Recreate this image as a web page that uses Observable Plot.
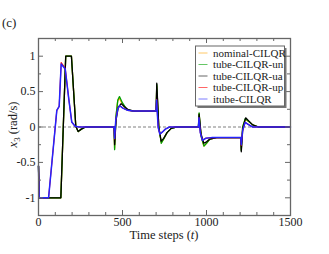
<!DOCTYPE html>
<html>
<head>
<meta charset="utf-8">
<script src="https://cdn.jsdelivr.net/npm/d3@7"></script>
<script src="https://cdn.jsdelivr.net/npm/@observablehq/plot@0.6"></script>
<style>
  html, body { margin: 0; padding: 0; background: #fff; }
  #chart { width: 329px; height: 254px; }
</style>
</head>
<body>
<div id="chart"></div>
<script>
// ---- data ----
const seriesNames = ["nominal-CILQR", "tube-CILQR-un", "tube-CILQR-ua", "tube-CILQR-up", "itube-CILQR"];
const seriesColors = ["#ffa500", "#00a000", "#000000", "#ff0000", "#2424ff"];
const seriesWidths = [1.3, 1.3, 1.3, 1.1, 1.5];

const tNominal = [0, 4, 133, 162, 196, 222, 236, 255, 280, 450, 453, 461, 471, 480, 498, 522, 560, 700, 704, 716, 731, 745, 765, 790, 820, 952, 956, 967, 984, 1000, 1020, 1060, 1204, 1207, 1215, 1231, 1250, 1275, 1310, 1500];
const vNominal = [-0.55, -1, -1, 1, 1, 0.01, -0.065, -0.03, 0, 0, -0.3, 0.14, 0.36, 0.41, 0.33, 0.25, 0.225, 0.225, 0.58, 0.0, -0.22, -0.17, -0.08, -0.02, 0, 0, 0.19, -0.12, -0.27, -0.23, -0.17, -0.15, -0.15, -0.32, 0.0, 0.11, 0.08, 0.03, 0, 0];

const tUn = [0, 4, 133, 162, 196, 222, 236, 255, 280, 450, 453, 461, 472, 482, 500, 525, 560, 700, 704, 716, 731, 745, 765, 790, 820, 952, 956, 967, 985, 1000, 1020, 1060, 1204, 1207, 1215, 1231, 1250, 1275, 1310, 1500];
const vUn = [-0.55, -1, -1, 1, 1, 0.01, -0.065, -0.03, 0, 0, -0.32, 0.15, 0.38, 0.43, 0.34, 0.25, 0.225, 0.225, 0.6, 0.0, -0.23, -0.17, -0.08, -0.02, 0, 0, 0.2, -0.12, -0.27, -0.23, -0.17, -0.15, -0.15, -0.33, 0.0, 0.12, 0.08, 0.03, 0, 0];

const tUa = [0, 4, 133, 162, 196, 222, 236, 255, 280, 450, 453, 462, 475, 492, 510, 535, 570, 700, 704, 716, 730, 745, 765, 790, 820, 952, 956, 968, 984, 1000, 1020, 1060, 1204, 1207, 1216, 1233, 1250, 1275, 1310, 1500];
const vUa = [-0.55, -1, -1, 1, 1, 0.01, -0.065, -0.03, 0, 0, -0.25, 0.1, 0.28, 0.33, 0.29, 0.245, 0.225, 0.225, 0.62, 0.0, -0.2, -0.16, -0.08, -0.02, 0, 0, 0.18, -0.1, -0.23, -0.21, -0.17, -0.15, -0.15, -0.35, -0.02, 0.13, 0.09, 0.03, 0, 0];

const tUp = [0, 4, 60, 109, 123, 135, 159, 180, 198, 218, 240, 450, 453, 460, 472, 484, 500, 530, 560, 700, 703, 712, 722, 738, 755, 780, 952, 955, 963, 976, 995, 1030, 1204, 1207, 1215, 1230, 1250, 1275, 1500];
const vUp = [-0.55, -1, -1, 0.235, 0.29, 0.91, 0.83, 0.4, 0.07, 0.01, 0, 0, -0.17, 0.1, 0.26, 0.3, 0.27, 0.235, 0.225, 0.225, 0.39, 0.0, -0.1, -0.07, -0.03, 0, 0, 0.13, -0.08, -0.19, -0.16, -0.15, -0.15, -0.26, -0.05, 0.065, 0.035, 0, 0];

const tItube = [0, 4, 60, 109, 123, 135, 159, 180, 198, 218, 240, 450, 453, 460, 472, 484, 500, 530, 560, 700, 703, 712, 722, 738, 755, 780, 952, 955, 963, 976, 995, 1030, 1204, 1207, 1215, 1230, 1250, 1275, 1500];
const vItube = [-0.55, -1, -1, 0.235, 0.29, 0.89, 0.82, 0.4, 0.07, 0.01, 0, 0, -0.16, 0.1, 0.26, 0.3, 0.27, 0.235, 0.225, 0.225, 0.38, 0.0, -0.1, -0.07, -0.03, 0, 0, 0.13, -0.08, -0.19, -0.16, -0.15, -0.15, -0.25, -0.05, 0.065, 0.035, 0, 0];

const xTickLabels = [0, 500, 1000, 1500];
const xMinorTicks = [0, 100, 200, 300, 400, 600, 700, 800, 900, 1100, 1200, 1300, 1400];
const yTickLabels = [-1, -0.5, 0, 0.5, 1];
const yMinorTicks = [-1.25, -0.75, -0.25, 0.25, 0.75, 1.25];

const xLabelMain = "Time steps (";
const xLabelVar = "t";
const panelLabel = "(c)";

// ---- build tables ----
const times = [tNominal, tUn, tUa, tUp, tItube];
const values = [vNominal, vUn, vUa, vUp, vItube];
const tables = times.map((ts, i) => ts.map((t, j) => ({t, v: values[i][j], s: seriesNames[i]})));

const W = 329, H = 254;
const mL = 38, mR = 39, mT = 38, mB = 39;
const fw = W - mL - mR, fh = H - mT - mB;
const serif = "'Liberation Serif', 'DejaVu Serif', serif";

const plot = Plot.plot({
  width: W, height: H,
  marginLeft: mL, marginRight: mR, marginTop: mT, marginBottom: mB,
  style: {fontFamily: serif, fontSize: "12px", background: "white", color: "#222"},
  x: {domain: [0, 1500]},
  y: {domain: [-1.25, 1.25]},
  marks: [
    Plot.ruleY([0], {stroke: "#aaaaaa", strokeWidth: 1.3, strokeDasharray: "3,2"}),
    ...tables.map((tb, i) => Plot.line(tb, {x: "t", y: "v", stroke: seriesColors[i], strokeWidth: seriesWidths[i]})),
    Plot.frame({stroke: "#666", strokeWidth: 1.3}),
    // inward ticks (bottom/top)
    Plot.tickX(xTickLabels, {x: d => d, stroke: "#666", strokeWidth: 1, insetTop: fh - 5}),
    Plot.tickX(xTickLabels, {x: d => d, stroke: "#666", strokeWidth: 1, insetBottom: fh - 5}),
    Plot.tickX(xMinorTicks, {x: d => d, stroke: "#666", strokeWidth: 1, insetTop: fh - 3}),
    Plot.tickX(xMinorTicks, {x: d => d, stroke: "#666", strokeWidth: 1, insetBottom: fh - 3}),
    // inward ticks (left/right)
    Plot.tickY(yTickLabels, {y: d => d, stroke: "#666", strokeWidth: 1, insetRight: fw - 5}),
    Plot.tickY(yTickLabels, {y: d => d, stroke: "#666", strokeWidth: 1, insetLeft: fw - 5}),
    Plot.tickY(yMinorTicks, {y: d => d, stroke: "#666", strokeWidth: 1, insetRight: fw - 3}),
    Plot.tickY(yMinorTicks, {y: d => d, stroke: "#666", strokeWidth: 1, insetLeft: fw - 3}),
    Plot.axisX({ticks: xTickLabels, tickSize: 0, tickPadding: 2, tickFormat: d => String(d), label: null, fill: "#222"}),
    Plot.axisY({ticks: yTickLabels, tickSize: 0, tickPadding: 3, tickFormat: d => String(d), label: null, fill: "#222"})
  ]
});

document.getElementById("chart").appendChild(plot);

// ---- annotations: axis labels, panel label, legend ----
const svg = d3.select(plot);

const xl = svg.append("text")
  .attr("x", mL + fw / 2).attr("y", 239)
  .attr("text-anchor", "middle")
  .attr("font-family", serif).attr("font-size", 12.5).attr("fill", "#222");
xl.append("tspan").text(xLabelMain);
xl.append("tspan").attr("font-style", "italic").text(xLabelVar);
xl.append("tspan").text(")");

const yl = svg.append("text")
  .attr("transform", `translate(${17},${mT + fh / 2 - 2}) rotate(-90)`)
  .attr("text-anchor", "middle")
  .attr("font-family", serif)
  .attr("font-size", 12.5)
  .attr("fill", "#222");
yl.append("tspan").attr("font-style", "italic").text("x");
yl.append("tspan").attr("font-size", 9).attr("dy", 3).text("3");
yl.append("tspan").attr("dy", -3).text(" (rad/s)");

svg.append("text")
  .attr("x", 2).attr("y", 27)
  .attr("text-anchor", "start")
  .attr("font-family", serif).attr("font-size", 13).attr("fill", "#222")
  .text(panelLabel);

const lg = svg.append("g");
const lx = 195.5, ly = 46, lw = 89, lh = 60;
lg.append("rect").attr("x", lx + 2).attr("y", ly + 2).attr("width", lw).attr("height", lh).attr("fill", "#777");
lg.append("rect").attr("x", lx).attr("y", ly).attr("width", lw).attr("height", lh).attr("fill", "white").attr("stroke", "#666").attr("stroke-width", 1);
seriesNames.forEach((name, i) => {
  const yy = ly + 7 + i * 11.5;
  lg.append("line").attr("x1", lx + 3).attr("x2", lx + 12).attr("y1", yy).attr("y2", yy)
    .attr("stroke", seriesColors[i]).attr("stroke-width", 1).attr("stroke-opacity", 0.6);
  lg.append("text").attr("x", lx + 17.5).attr("y", yy + 3.9).attr("text-anchor", "start")
    .attr("font-family", serif).attr("font-size", 11).attr("fill", "#222").text(name);
});
</script>
</body>
</html>
